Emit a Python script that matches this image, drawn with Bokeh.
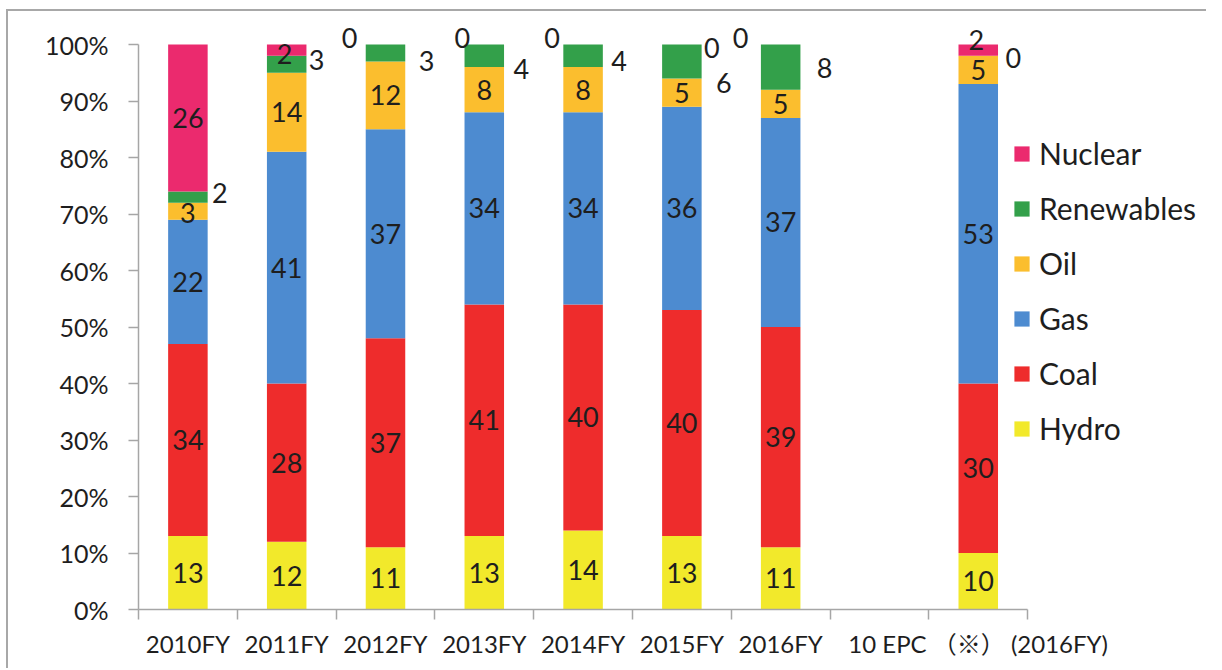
from bokeh.plotting import figure
from bokeh.models import (Range1d, FixedTicker, PrintfTickFormatter, CustomJSTickFormatter,
                          Legend, LegendItem, ColumnDataSource)
from bokeh.core.properties import value
from bokeh.embed import file_html
from bokeh.resources import INLINE

# ---------------- data ----------------
categories = ["2010FY", "2011FY", "2012FY", "2013FY", "2014FY", "2015FY", "2016FY", "",
              "10 EPC （※） (2016FY)"]
hydro = [13, 12, 11, 13, 14, 13, 11, None, 10]
coal = [34, 28, 37, 41, 40, 40, 39, None, 30]
gas = [22, 41, 37, 34, 34, 36, 37, None, 53]
oil = [3, 14, 12, 8, 8, 5, 5, None, 5]
renewables = [2, 3, 3, 4, 4, 6, 8, None, 0]
nuclear = [26, 2, 0, 0, 0, 0, 0, None, 2]

series_names = ["Hydro", "Coal", "Gas", "Oil", "Renewables", "Nuclear"]
series_values = [hydro, coal, gas, oil, renewables, nuclear]
colors = ["#F2E92B", "#EE2C2C", "#4D8BD0", "#FBBE2E", "#33A04A", "#EB2A6E"]

# manual label nudges (pixels): styling only
label_offsets = {
    ("Oil", 0): (0, 2),
    ("Renewables", 0): (32, -4),
    ("Renewables", 1): (30, -4),
    ("Nuclear", 1): (-2, 4),
    ("Nuclear", 2): (-36, -7),
    ("Renewables", 2): (41, 8),
    ("Nuclear", 3): (-22, -7),
    ("Renewables", 3): (37, 13),
    ("Nuclear", 4): (-31, -7),
    ("Renewables", 4): (36, 5),
    ("Nuclear", 5): (30, 3),
    ("Renewables", 5): (42, 22),
    ("Nuclear", 6): (-40, -7),
    ("Renewables", 6): (44, 1),
    ("Nuclear", 8): (-2, -10),
    ("Renewables", 8): (35, 2),
}

FONT = "Lato"
TEXT = "#1e1e1e"
AXIS = "#a6a6a6"

n = len(categories)
p = figure(width=1200, height=659, output_backend="svg", toolbar_location=None,
           x_range=Range1d(0, 10.79), y_range=Range1d(0, 105.31),
           min_border_left=130, min_border_right=4, min_border_top=3, min_border_bottom=61)
p.styles = {"border-top": "2px solid #a8a8a8", "border-left": "2px solid #a8a8a8",
            "margin-top": "9px", "margin-left": "6px"}
p.xgrid.visible = False
p.ygrid.visible = False
p.outline_line_color = None
p.background_fill_color = "white"
p.border_fill_color = "white"

xs_center = [i + 0.5 for i in range(n)]
bottoms = [0.0] * n
renderers = {}
lab_x, lab_y, lab_t, lab_dx, lab_dy = [], [], [], [], []
for name, vals, col in zip(series_names, series_values, colors):
    bx, bb, bt = [], [], []
    for i, v in enumerate(vals):
        if v is None:
            continue
        bx.append(xs_center[i])
        bb.append(bottoms[i])
        bt.append(bottoms[i] + v)
        dx, dy = label_offsets.get((name, i), (0, 0))
        lab_x.append(xs_center[i])
        lab_y.append(bottoms[i] + v / 2)
        lab_t.append(str(v))
        lab_dx.append(dx)
        lab_dy.append(dy)
        bottoms[i] += v
    src = ColumnDataSource(dict(x=bx, bottom=bb, top=bt))
    r = p.vbar(x="x", bottom="bottom", top="top", width=0.4, source=src,
               fill_color=col, line_color=None)
    renderers[name] = r

lsrc = ColumnDataSource(dict(x=lab_x, y=lab_y, t=lab_t, dx=lab_dx, dy=lab_dy))
p.text(x="x", y="y", text="t", x_offset="dx", y_offset="dy", source=lsrc,
       text_align="center", text_baseline="middle", text_font=value(FONT),
       text_font_size="27px", text_color=TEXT)

# axes
p.yaxis.bounds = (0, 100)
p.yaxis.ticker = FixedTicker(ticks=list(range(0, 101, 10)))
p.yaxis.formatter = PrintfTickFormatter(format="%d%%")
p.yaxis.axis_line_color = AXIS
p.yaxis.axis_line_width = 1.5
p.yaxis.major_tick_line_color = AXIS
p.yaxis.major_tick_line_width = 1.5
p.yaxis.major_tick_out = 10
p.yaxis.major_tick_in = 0
p.yaxis.minor_tick_line_color = None
p.yaxis.major_label_text_font = FONT
p.yaxis.major_label_text_font_size = "25px"
p.yaxis.major_label_text_color = TEXT
p.yaxis.major_label_standoff = 20

p.xaxis.bounds = (0, n)
p.xaxis.ticker = FixedTicker(ticks=xs_center, minor_ticks=list(range(n + 1)))
p.xaxis.formatter = CustomJSTickFormatter(args=dict(labels=categories),
                                          code="return labels[Math.floor(tick)] || '';")
p.xaxis.axis_line_color = AXIS
p.xaxis.axis_line_width = 1.5
p.xaxis.major_tick_line_color = None
p.xaxis.minor_tick_line_color = AXIS
p.xaxis.minor_tick_line_width = 1.5
p.xaxis.minor_tick_out = 10
p.xaxis.minor_tick_in = 0
p.xaxis.major_label_text_font = "Lato, 'Noto Sans CJK JP'"
p.xaxis.major_label_text_font_size = "24px"
p.xaxis.major_label_text_color = TEXT
p.xaxis.major_label_standoff = 9

legend = Legend(items=[LegendItem(label=nm, renderers=[renderers[nm]])
                       for nm in reversed(series_names)],
                location=(874, 163), glyph_width=19, glyph_height=19, label_height=19,
                label_standoff=8, spacing=19, padding=0, margin=0,
                border_line_color=None, background_fill_alpha=0,
                label_text_font=FONT, label_text_font_size="30px", label_text_color=TEXT)
p.add_layout(legend)

open("out.html", "w").write(file_html(p, INLINE))
